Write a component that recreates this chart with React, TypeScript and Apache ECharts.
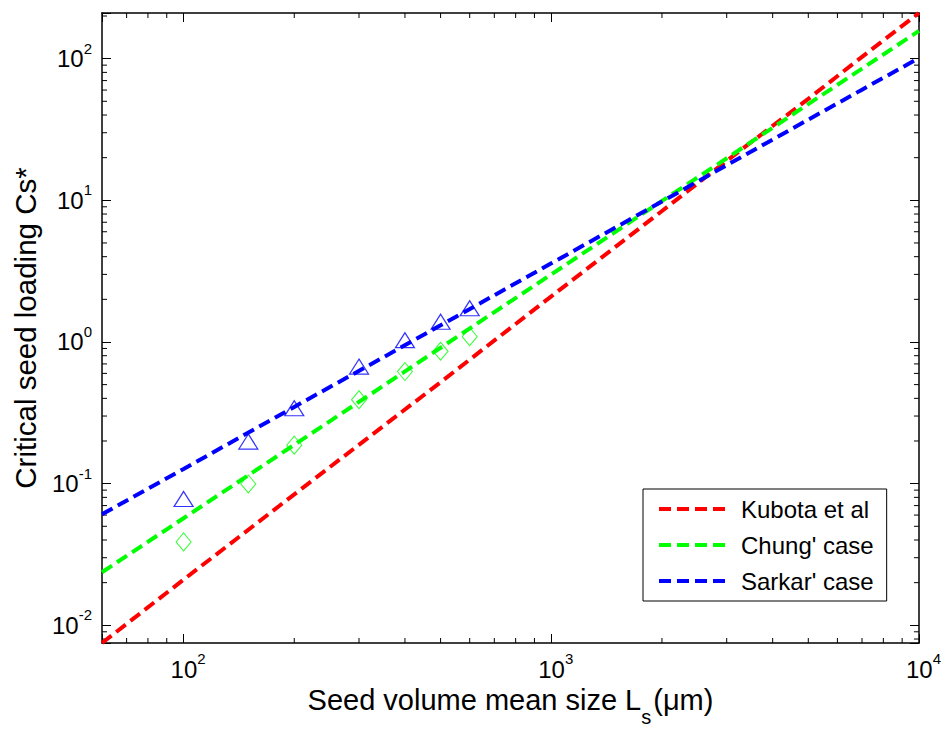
import React, { useEffect, useRef } from "react";
import * as echarts from "echarts";

// ---- data ----
const lineX = [60, 100, 200, 500, 1000, 2000, 3000, 5000, 7000, 10000];
const kubota = [0.0075, 0.021, 0.084, 0.52, 2.1, 8.4, 19, 52, 103, 210];
const chung = [0.0237, 0.057, 0.188, 0.91, 3.0, 9.9, 19.8, 47.8, 85, 157];
const sarkar = [0.0608, 0.127, 0.348, 1.31, 3.59, 9.8, 17.7, 37.1, 60.4, 101];

const expX = [100, 150, 200, 300, 400, 500, 600];
const sarkarExp = [0.078, 0.198, 0.341, 0.67, 1.03, 1.39, 1.73];
const chungExp = [0.0388, 0.0995, 0.187, 0.391, 0.618, 0.86, 1.09];

const seriesNames = ["Kubota et al", "Chung' case", "Sarkar' case"];
const colors = ["#ff0000", "#00ff00", "#0000ff"];

const X_MIN = 60;
const X_MAX = 10000;
const Y_MIN = 0.0075;
const Y_MAX = 210;

const FONT = "'Liberation Sans', Arial, Helvetica, sans-serif";

function minorTicks(min: number, max: number): number[] {
  const out: number[] = [];
  const lo = Math.floor(Math.log10(min));
  const hi = Math.ceil(Math.log10(max));
  for (let e = lo; e <= hi; e++) {
    for (let m = 2; m <= 9; m++) {
      const v = m * Math.pow(10, e);
      if (v > min * 1.0001 && v < max * 0.9999) out.push(v);
    }
  }
  return out;
}

function powLabel(v: number): string {
  const e = Math.log10(v);
  const r = Math.round(e);
  if (Math.abs(e - r) > 1e-6) return "";
  return "{b|10}{s|" + String(r) + "}";
}

const labelRich = {
  b: { fontSize: 24, lineHeight: 36, fontFamily: FONT, color: "#000" },
  s: { fontSize: 15, lineHeight: 15, verticalAlign: "top", fontFamily: FONT, color: "#000" },
};
const labelRichX = {
  b: { fontSize: 24, lineHeight: 36, fontFamily: FONT, color: "#000", padding: [0, 0, 0, 9] },
  s: { fontSize: 15, lineHeight: 15, verticalAlign: "top", fontFamily: FONT, color: "#000" },
};

export default function App() {
  const ref = useRef<HTMLDivElement>(null);
  useEffect(() => {
    if (!ref.current) return;
    const chart = echarts.init(ref.current, undefined, { renderer: "svg" });
    const axisLine = { show: true, lineStyle: { color: "#000", width: 1.5 } };
    const majorTick = { show: true, inside: true, length: 9, lineStyle: { color: "#000", width: 1 } };
    const xMinor = minorTicks(X_MIN, X_MAX);
    const yMinor = minorTicks(Y_MIN, Y_MAX);

    const line = (i: number, vals: number[]) => ({
      name: seriesNames[i],
      type: "line",
      data: lineX.map((x, k) => [x, vals[k]]),
      symbol: "none",
      showSymbol: false,
      lineStyle: { color: colors[i], width: 4, type: [12, 6] },
      itemStyle: { color: colors[i] },
      z: 3,
    });

    const option: any = {
      animation: false,
      backgroundColor: "#fff",
      grid: { left: 102, right: 21, top: 13, bottom: 90, containLabel: false },
      xAxis: [
        {
          type: "log",
          min: X_MIN,
          max: X_MAX,
          position: "bottom",
          axisLine,
          axisTick: majorTick,
          splitLine: { show: false },
          axisLabel: { formatter: powLabel, margin: 8, rich: labelRichX },
          name: "{t|Seed volume mean size L}{sub|s}{t|(μm)}",
          nameLocation: "middle",
          nameGap: 35,
          nameTextStyle: {
            rich: {
              t: { fontSize: 29, fontFamily: FONT, color: "#000", lineHeight: 34 },
              sub: { fontSize: 20, fontFamily: FONT, color: "#000", verticalAlign: "bottom", lineHeight: 20, padding: [0, 2, -10, 0] },
            },
          },
        },
        {
          type: "log",
          min: X_MIN,
          max: X_MAX,
          position: "top",
          axisLine,
          axisTick: majorTick,
          splitLine: { show: false },
          axisLabel: { show: false },
        },
      ],
      yAxis: [
        {
          type: "log",
          min: Y_MIN,
          max: Y_MAX,
          position: "left",
          axisLine,
          axisTick: majorTick,
          splitLine: { show: false },
          axisLabel: { formatter: powLabel, margin: 10, rich: labelRich },
          name: "Critical seed loading Cs*",
          nameLocation: "middle",
          nameGap: 62,
          nameTextStyle: { fontSize: 29.5, fontFamily: FONT, color: "#000" },
        },
        {
          type: "log",
          min: Y_MIN,
          max: Y_MAX,
          position: "right",
          axisLine,
          axisTick: majorTick,
          splitLine: { show: false },
          axisLabel: { show: false },
        },
      ],
      legend: {
        data: seriesNames,
        orient: "vertical",
        left: 643,
        top: 489,
        padding: [7, 13, 7, 14],
        itemGap: 10,
        itemWidth: 71,
        itemHeight: 12,
        backgroundColor: "#fff",
        borderColor: "#000",
        borderWidth: 1,
        borderRadius: 0,
        itemStyle: { opacity: 0 },
        textStyle: { fontSize: 24, fontFamily: FONT, color: "#000", lineHeight: 26, padding: [0, 0, 0, 6] },
        lineStyle: { width: 4 },
      },
      series: [
        {
          name: "sarkar-exp",
          type: "scatter",
          data: expX.map((x, k) => [x, sarkarExp[k]]),
          symbol: "triangle",
          symbolSize: [19, 15],
          itemStyle: { color: "rgba(255,255,255,0)", borderColor: colors[2], borderWidth: 1.2 },
          z: 2,
        },
        {
          name: "chung-exp",
          type: "scatter",
          data: expX.map((x, k) => [x, chungExp[k]]),
          symbol: "diamond",
          symbolSize: [15, 18],
          itemStyle: { color: "rgba(255,255,255,0)", borderColor: colors[1], borderWidth: 1 },
          z: 2,
        },
        line(0, kubota),
        line(1, chung),
        line(2, sarkar),
        {
          name: "x-minor",
          type: "custom",
          coordinateSystem: "cartesian2d",
          encode: { x: 0, y: 1 },
          silent: true,
          clip: false,
          data: xMinor.map((v) => [v, 1]),
          renderItem: (params: any, api: any) => {
            const p = api.coord([api.value(0), api.value(1)]);
            const cs = params.coordSys;
            const b = cs.y + cs.height;
            return {
              type: "group",
              children: [
                { type: "line", shape: { x1: p[0], y1: b, x2: p[0], y2: b - 5 }, style: { stroke: "#000", lineWidth: 1 } },
                { type: "line", shape: { x1: p[0], y1: cs.y, x2: p[0], y2: cs.y + 5 }, style: { stroke: "#000", lineWidth: 1 } },
              ],
            };
          },
          z: 1,
        },
        {
          name: "y-minor",
          type: "custom",
          coordinateSystem: "cartesian2d",
          encode: { x: 0, y: 1 },
          silent: true,
          clip: false,
          data: yMinor.map((v) => [1000, v]),
          renderItem: (params: any, api: any) => {
            const p = api.coord([api.value(0), api.value(1)]);
            const cs = params.coordSys;
            const r = cs.x + cs.width;
            return {
              type: "group",
              children: [
                { type: "line", shape: { x1: cs.x, y1: p[1], x2: cs.x + 5, y2: p[1] }, style: { stroke: "#000", lineWidth: 1 } },
                { type: "line", shape: { x1: r, y1: p[1], x2: r - 5, y2: p[1] }, style: { stroke: "#000", lineWidth: 1 } },
              ],
            };
          },
          z: 1,
        },
      ],
    };
    chart.setOption(option);
    return () => chart.dispose();
  }, []);
  return (
    <div
      ref={ref}
      style={{ position: "fixed", left: 0, top: 0, width: 944, height: 733, background: "#fff" }}
    />
  );
}
